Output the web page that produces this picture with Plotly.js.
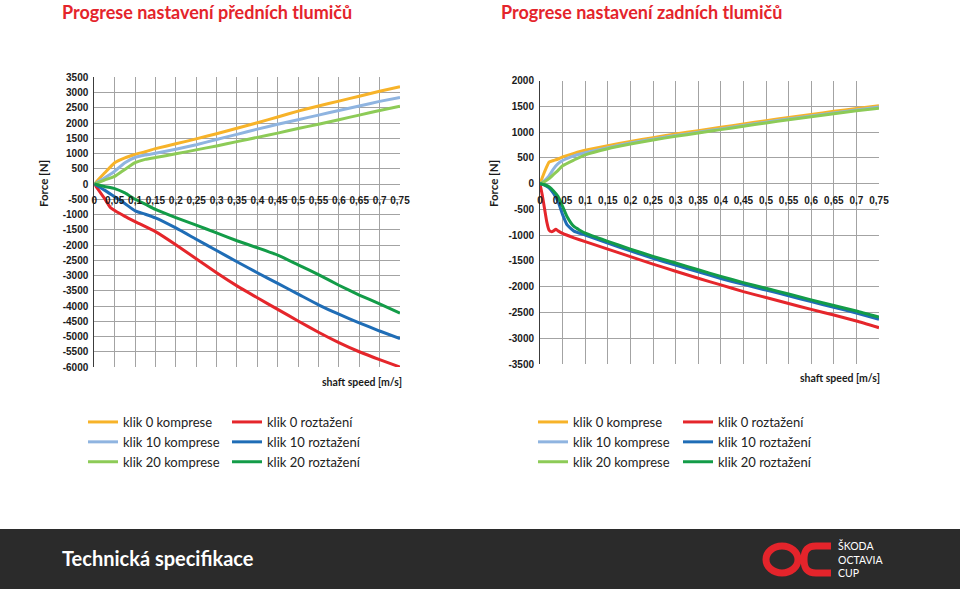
<!DOCTYPE html>
<html>
<head>
<meta charset="utf-8">
<script src="https://cdn.plot.ly/plotly-3.0.1.min.js"></script>
<style>html,body{margin:0;padding:0;background:#fff;}#chart{width:960px;height:589px;}</style>
</head>
<body>
<div id="chart"></div>
<script>
// ---------- DATA ----------
var chartTitles = ['Progrese nastavení předních tlumičů', 'Progrese nastavení zadních tlumičů'];
var seriesNames = ['klik 0 komprese', 'klik 10 komprese', 'klik 20 komprese', 'klik 0 roztažení', 'klik 10 roztažení', 'klik 20 roztažení'];
var xTickVals = [0, 0.05, 0.1, 0.15, 0.2, 0.25, 0.3, 0.35, 0.4, 0.45, 0.5, 0.55, 0.6, 0.65, 0.7, 0.75];
var xTickLabels = ['0', '0,05', '0,1', '0,15', '0,2', '0,25', '0,3', '0,35', '0,4', '0,45', '0,5', '0,55', '0,6', '0,65', '0,7', '0,75'];
var frontYTicks = [3500, 3000, 2500, 2000, 1500, 1000, 500, 0, -500, -1000, -1500, -2000, -2500, -3000, -3500, -4000, -4500, -5000, -5500, -6000];
var rearYTicks = [2000, 1500, 1000, 500, 0, -500, -1000, -1500, -2000, -2500, -3000, -3500];

// Front (přední) dampers
var frontX = [0, 0.025, 0.05, 0.075, 0.1, 0.125, 0.15, 0.2, 0.25, 0.3, 0.35, 0.4, 0.45, 0.5, 0.55, 0.6, 0.65, 0.7, 0.75];
var frontKlik0Komp  = [0, 360, 700, 860, 970, 1060, 1160, 1320, 1480, 1650, 1830, 2010, 2200, 2390, 2560, 2720, 2880, 3040, 3190];
var frontKlik10Komp = [0, 200, 420, 700, 870, 950, 1010, 1140, 1290, 1460, 1630, 1800, 1960, 2110, 2260, 2410, 2560, 2710, 2840];
var frontKlik20Komp = [0, 130, 250, 480, 700, 810, 870, 990, 1120, 1250, 1390, 1530, 1670, 1820, 1960, 2110, 2260, 2410, 2550];
var frontRedX = [0, 0.025, 0.04, 0.05, 0.075, 0.1, 0.15, 0.2, 0.25, 0.3, 0.35, 0.4, 0.45, 0.5, 0.55, 0.6, 0.65, 0.7, 0.75];
var frontKlik0Roz  = [0, -470, -780, -870, -1060, -1230, -1560, -1990, -2450, -2910, -3340, -3730, -4110, -4490, -4860, -5200, -5500, -5760, -6000];
var frontKlik10Roz = [0, -200, -420, -640, -880, -990, -1110, -1440, -1810, -2180, -2550, -2910, -3260, -3610, -3960, -4270, -4550, -4820, -5070];
var frontKlik20Roz = [0, -80, -150, -290, -500, -660, -830, -1100, -1350, -1600, -1860, -2090, -2330, -2650, -2970, -3320, -3640, -3930, -4230];

// Rear (zadní) dampers
var rearKompX = [0, 0.01, 0.02, 0.03, 0.04, 0.05, 0.075, 0.1, 0.15, 0.2, 0.25, 0.3, 0.35, 0.4, 0.45, 0.5, 0.55, 0.6, 0.65, 0.7, 0.75];
var rearKlik0Komp  = [0, 230, 420, 450, 480, 520, 590, 650, 740, 820, 895, 965, 1030, 1095, 1160, 1225, 1285, 1345, 1405, 1460, 1515];
var rearKlik10Komp = [0, 60, 150, 290, 390, 450, 540, 600, 700, 790, 865, 935, 1000, 1065, 1130, 1195, 1255, 1315, 1375, 1430, 1490];
var rearKlik20Komp = [0, 40, 100, 180, 260, 350, 460, 560, 680, 770, 850, 920, 985, 1050, 1115, 1180, 1240, 1300, 1360, 1415, 1465];
var rearRedX = [0, 0.005, 0.01, 0.015, 0.02, 0.025, 0.03, 0.035, 0.04, 0.05, 0.075, 0.1, 0.15, 0.2, 0.25, 0.3, 0.35, 0.4, 0.45, 0.5, 0.55, 0.6, 0.65, 0.7, 0.75];
var rearKlik0Roz = [0, -220, -480, -740, -900, -930, -915, -885, -915, -965, -1050, -1125, -1270, -1415, -1560, -1700, -1835, -1965, -2095, -2210, -2325, -2440, -2550, -2665, -2795];
var rearRozX = [0, 0.01, 0.02, 0.03, 0.04, 0.05, 0.06, 0.075, 0.1, 0.15, 0.2, 0.25, 0.3, 0.35, 0.4, 0.45, 0.5, 0.55, 0.6, 0.65, 0.7, 0.75];
var rearKlik10Roz = [0, -25, -80, -190, -350, -600, -800, -920, -995, -1155, -1305, -1450, -1580, -1710, -1840, -1955, -2065, -2175, -2290, -2400, -2510, -2630];
var rearKlik20Roz = [0, -20, -60, -140, -250, -440, -640, -830, -960, -1120, -1270, -1410, -1540, -1670, -1800, -1920, -2030, -2140, -2255, -2365, -2470, -2590];

var colors = ['#F7B329', '#8FB4E0', '#8DCB57', '#E5262B', '#1F6DB6', '#139C48'];

// ---------- LAYOUT HELPERS ----------
var W = 960, H = 589;
function px(x) { return x / W; }
function py(y) { return 1 - y / H; }

var xDom1 = [px(94.3), px(400)], yDom1 = [py(367), py(77.3)];
var xDom2 = [px(540), px(879)], yDom2 = [py(364), py(80.7)];
var yRange1 = [-6000, 3500], yRange2 = [-3500, 2000];
function zeroPos(dom, r) { return dom[0] + (0 - r[0]) / (r[1] - r[0]) * (dom[1] - dom[0]); }

var tickFont = {family: 'Liberation Sans, Arial, sans-serif', size: 10, color: '#1a1a1a', weight: 'bold'};
var gridColor = '#a3a3a3';

function mk(x, y, name, ci, xa, ya, leg) {
  return {x: x, y: y, name: name, type: 'scatter', mode: 'lines', xaxis: xa, yaxis: ya, legend: leg,
          line: {color: colors[ci], width: 3, shape: 'spline', smoothing: 0.4}, hoverinfo: 'x+y+name'};
}

var traces = [
  mk(frontX, frontKlik0Komp, seriesNames[0], 0, 'x', 'y', 'legend'),
  mk(frontX, frontKlik10Komp, seriesNames[1], 1, 'x', 'y', 'legend'),
  mk(frontX, frontKlik20Komp, seriesNames[2], 2, 'x', 'y', 'legend'),
  mk(frontRedX, frontKlik0Roz, seriesNames[3], 3, 'x', 'y', 'legend2'),
  mk(frontX, frontKlik10Roz, seriesNames[4], 4, 'x', 'y', 'legend2'),
  mk(frontX, frontKlik20Roz, seriesNames[5], 5, 'x', 'y', 'legend2'),
  mk(rearKompX, rearKlik0Komp, seriesNames[0], 0, 'x2', 'y2', 'legend3'),
  mk(rearKompX, rearKlik10Komp, seriesNames[1], 1, 'x2', 'y2', 'legend3'),
  mk(rearKompX, rearKlik20Komp, seriesNames[2], 2, 'x2', 'y2', 'legend3'),
  mk(rearRedX, rearKlik0Roz, seriesNames[3], 3, 'x2', 'y2', 'legend4'),
  mk(rearRozX, rearKlik10Roz, seriesNames[4], 4, 'x2', 'y2', 'legend4'),
  mk(rearRozX, rearKlik20Roz, seriesNames[5], 5, 'x2', 'y2', 'legend4')
];

function xAxis(dom, yDom, yR) {
  return {domain: dom, range: [0, 0.75], anchor: 'free', position: zeroPos(yDom, yR),
          tickvals: xTickVals, ticktext: xTickLabels, tickfont: tickFont, ticks: '', ticklabelstandoff: 9,
          showgrid: true, gridcolor: gridColor, gridwidth: 1, zeroline: false, showline: false,
          fixedrange: true};
}
function yAxis(dom, r, ticks, anchor) {
  return {domain: dom, range: r, anchor: anchor, tickvals: ticks, ticktext: ticks.map(String),
          tickfont: tickFont, ticks: '', ticklabelstandoff: 3, showgrid: true, gridcolor: gridColor, gridwidth: 1,
          zeroline: false, showline: true, linecolor: '#3c3c3c', linewidth: 1, fixedrange: true};
}

var legFont = {family: 'Lato, Open Sans, sans-serif', size: 13, color: '#222'};
function leg(x, y) {
  return {x: px(x), y: py(y), xanchor: 'left', yanchor: 'top', font: legFont,
          bgcolor: 'rgba(0,0,0,0)', borderwidth: 0, orientation: 'v', tracegroupgap: 0, itemclick: false};
}

var titleFont = {family: 'Lato, Open Sans, sans-serif', size: 18, color: '#E4242B', weight: 'bold'};
var axTitleFont = {family: 'Lato, Open Sans, sans-serif', size: 11.5, color: '#1a1a1a', weight: 'bold'};
var shaftFont = {family: 'Lato, Open Sans, sans-serif', size: 10.5, color: '#1a1a1a', weight: 'bold'};

function ann(text, x, y, font, opts) {
  var a = {text: text, x: px(x), y: py(y), xref: 'paper', yref: 'paper', showarrow: false, font: font,
           xanchor: 'center', yanchor: 'middle'};
  for (var k in opts) a[k] = opts[k];
  return a;
}

// Logo paths (decorative)
function P(x, y) { return px(x).toFixed(5) + ',' + py(y).toFixed(5); }
var cPath = 'M' + P(831, 546) + ' L' + P(816, 546) + ' C' + P(806, 546) + ' ' + P(804, 552) + ' ' + P(804, 559.5) +
            ' C' + P(804, 567) + ' ' + P(806, 573) + ' ' + P(816, 573) + ' L' + P(831, 573);

var layout = {
  width: W, height: H, margin: {l: 0, r: 0, t: 0, b: 0},
  paper_bgcolor: '#ffffff', plot_bgcolor: '#ffffff', showlegend: true,
  xaxis: xAxis(xDom1, yDom1, yRange1),
  yaxis: yAxis(yDom1, yRange1, frontYTicks, 'x'),
  xaxis2: xAxis(xDom2, yDom2, yRange2),
  yaxis2: yAxis(yDom2, yRange2, rearYTicks, 'x2'),
  legend: leg(83, 407),
  legend2: leg(227, 407),
  legend3: leg(533, 407),
  legend4: leg(678, 407),
  shapes: [
    {type: 'rect', xref: 'paper', yref: 'paper', x0: 0, x1: 1, y0: py(589), y1: py(529), fillcolor: '#2b2b2b', line: {width: 0}, layer: 'below'},
    {type: 'circle', xref: 'paper', yref: 'paper', x0: px(766), x1: px(798), y0: py(573), y1: py(546), line: {color: '#E4242B', width: 7}},
    {type: 'path', xref: 'paper', yref: 'paper', path: cPath, line: {color: '#E4242B', width: 7}}
  ],
  annotations: [
    ann(chartTitles[0], 207, 12, titleFont),
    ann(chartTitles[1], 641, 12, titleFont),
    ann('Force [N]', 43, 184, axTitleFont, {textangle: -90}),
    ann('Force [N]', 493, 184, axTitleFont, {textangle: -90}),
    ann('shaft speed [m/s]', 404, 382, shaftFont, {xanchor: 'right'}),
    ann('shaft speed [m/s]', 882, 378, shaftFont, {xanchor: 'right'}),
    ann('Technická specifikace', 60, 558, {family: 'Lato, Open Sans, sans-serif', size: 20, color: '#ffffff', weight: 'bold'}, {xanchor: 'left'}),
    ann('ŠKODA<br>OCTAVIA<br>CUP', 836, 559, {family: 'Lato, sans-serif', size: 10.5, color: '#ffffff'}, {xanchor: 'left', align: 'left'})
  ]
};

Plotly.newPlot('chart', traces, layout, {displayModeBar: false, staticPlot: true});
</script>
</body>
</html>
